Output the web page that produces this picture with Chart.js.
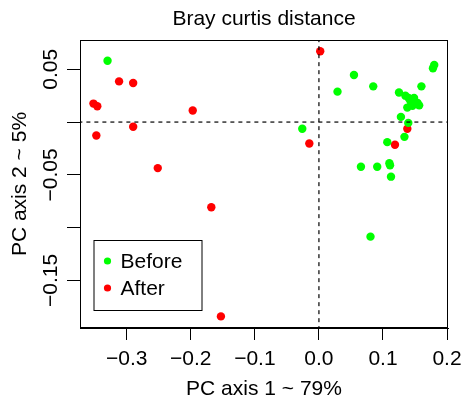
<!DOCTYPE html>
<html>
<head>
<meta charset="utf-8">
<script src="https://cdn.jsdelivr.net/npm/chart.js@4/dist/chart.umd.min.js"></script>
<style>
    body { margin: 0; background: #fff; }
</style>
</head>
<body>
<canvas id="pcoa" width="463" height="403"></canvas>
<script>
// Điểm trước (xanh)
const beforeX = [-0.330, -0.026, 0.0547, 0.029, 0.0848, 0.180, 0.178, 0.160, 0.125, 0.135, 0.140, 0.1485, 0.154, 0.143, 0.1565, 0.146, 0.138, 0.128, 0.1395, 0.1335, 0.1067, 0.0656, 0.091, 0.110, 0.111, 0.1125, 0.0805];
const beforeY = [0.058, -0.0064, 0.0445, 0.0288, 0.0338, 0.054, 0.051, 0.0338, 0.028, 0.025, 0.0228, 0.0228, 0.018, 0.0196, 0.0158, 0.0155, 0.0137, 0.0049, -0.0008, -0.014, -0.019, -0.0423, -0.0423, -0.039, -0.041, -0.0517, -0.1085];

// Điểm sau (đỏ)
const afterX = [0.002, -0.312, -0.290, -0.352, -0.346, -0.197, -0.290, -0.3475, -0.2516, -0.015, 0.138, 0.1187, -0.168, -0.153];
const afterY = [0.067, 0.0385, 0.037, 0.0175, 0.015, 0.011, -0.0045, -0.0127, -0.0436, -0.0203, -0.0064, -0.0215, -0.0807, -0.184];

const groupLabels = ['Before', 'After'];
const xTicks = [-0.3, -0.2, -0.1, 0.0, 0.1, 0.2];
const yTicks = [0.05, 0, -0.05, -0.1, -0.15];
const yTicksShown = [0.05, -0.05, -0.15];

const FONT = 'Liberation Sans, Arial, Helvetica, sans-serif';

function toPoints(xs, ys) {
    return xs.map((x, i) => ({ x: x, y: ys[i] }));
}

function fmt(v, digits) {
    const s = Math.abs(v).toFixed(digits);
    return v < -1e-9 ? '\u2212' + s : s;
}

// Khung + chú thích
const boxPlugin = {
    id: 'boxPlugin',
    afterDraw(chart) {
        const { ctx, chartArea } = chart;
        ctx.save();
        ctx.strokeStyle = '#000';
        ctx.lineWidth = 1;
        ctx.strokeRect(chartArea.left + 0.5, chartArea.top + 0.5, chartArea.width - 1, chartArea.height - 1);

        // legend
        const lx = chartArea.left + 13.5;
        const ly = chartArea.bottom - 88;
        ctx.strokeRect(lx + 0.5, ly + 0.5, 108, 70);
        ctx.font = '21px ' + FONT;
        ctx.textBaseline = 'middle';
        ctx.textAlign = 'left';
        const pts = chart.data.datasets.filter(d => d.isGroup);
        pts.forEach((d, i) => {
            const cy = ly + 21 + i * 27;
            ctx.fillStyle = d.backgroundColor;
            ctx.beginPath();
            ctx.arc(lx + 14, cy, 3.6, 0, Math.PI * 2);
            ctx.fill();
            ctx.fillStyle = '#000';
            ctx.fillText(d.label, lx + 27, cy + 1);
        });
        ctx.restore();
    }
};

const ctx = document.getElementById('pcoa').getContext('2d');
new Chart(ctx, {
    type: 'scatter',
    data: {
        datasets: [
            {
                label: 'x0',
                data: [{ x: 0, y: -1 }, { x: 0, y: 1 }],
                showLine: true,
                borderColor: '#000',
                borderWidth: 1.2,
                borderDash: [4, 4],
                pointRadius: 0,
                order: 0
            },
            {
                label: 'y0',
                data: [{ x: -1, y: 0 }, { x: 1, y: 0 }],
                showLine: true,
                borderColor: '#000',
                borderWidth: 1.2,
                borderDash: [4, 4],
                pointRadius: 0,
                order: 0
            },
            {
                label: groupLabels[0],
                isGroup: true,
                data: toPoints(beforeX, beforeY),
                backgroundColor: '#00FF00',
                borderWidth: 0,
                pointRadius: 4.2,
                order: 1
            },
            {
                label: groupLabels[1],
                isGroup: true,
                data: toPoints(afterX, afterY),
                backgroundColor: '#FF0000',
                borderWidth: 0,
                pointRadius: 4.2,
                order: 2
            }
        ]
    },
    options: {
        responsive: false,
        animation: false,
        layout: {
            padding: { left: 0, right: 15, top: 0, bottom: 0 }
        },
        plugins: {
            legend: { display: false },
            tooltip: { enabled: false },
            title: {
                display: true,
                fullSize: false,
                text: 'Bray curtis distance',
                color: '#000',
                font: { family: FONT, size: 21, weight: 'normal', lineHeight: 1.2 },
                padding: { top: 6.6, bottom: 8.2 }
            }
        },
        scales: {
            x: {
                type: 'linear',
                min: -0.373,
                max: 0.2015,
                afterFit(scale) {
                    scale.height = 75;
                    scale.paddingLeft = 0;
                    scale.paddingRight = 0;
                },
                afterBuildTicks(scale) { scale.ticks = xTicks.map(v => ({ value: v })); },
                border: { display: true, color: '#000', width: 1 },
                grid: { drawOnChartArea: false, color: '#000', tickLength: 12 },
                ticks: {
                    color: '#000',
                    padding: 6.4,
                    maxRotation: 0,
                    font: { family: FONT, size: 21 },
                    callback: v => fmt(v, 1)
                },
                title: {
                    display: true,
                    text: 'PC axis 1 ~ 79%',
                    color: '#000',
                    font: { family: FONT, size: 21 },
                    padding: { top: 0, bottom: 1.4 }
                }
            },
            y: {
                type: 'linear',
                min: -0.195,
                max: 0.0777,
                afterFit(scale) {
                    scale.width = 80;
                    scale.paddingTop = 0;
                    scale.paddingBottom = 0;
                },
                afterBuildTicks(scale) { scale.ticks = yTicks.map(v => ({ value: v })); },
                border: { display: true, color: '#000', width: 1 },
                grid: { drawOnChartArea: false, color: '#000', tickLength: 13 },
                ticks: {
                    color: '#000',
                    minRotation: 90,
                    maxRotation: 90,
                    crossAlign: 'center',
                    padding: -10.5,
                    font: { family: FONT, size: 21 },
                    callback: v => yTicksShown.some(t => Math.abs(t - v) < 1e-9) ? fmt(v, 2) : ''
                },
                title: {
                    display: true,
                    text: 'PC axis 2 ~ 5%',
                    color: '#000',
                    font: { family: FONT, size: 21 },
                    padding: { top: 7.4, bottom: 0 }
                }
            }
        }
    },
    plugins: [boxPlugin]
});
</script>
</body>
</html>
